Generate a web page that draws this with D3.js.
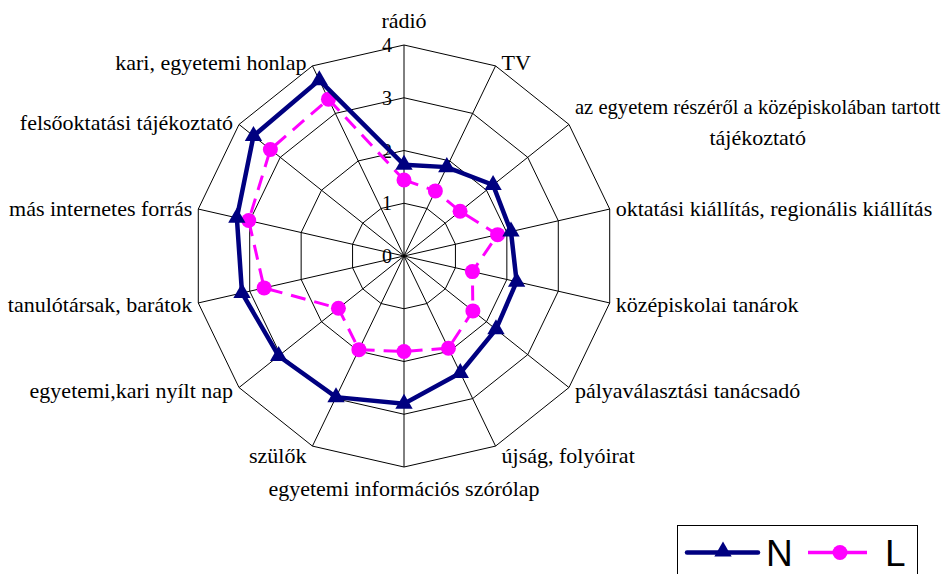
<!doctype html>
<html>
<head>
<meta charset="UTF-8">
<title>radar</title>
<script src="https://d3js.org/d3.v7.min.js"></script>
<style>
  body { margin: 0; background: #fff; }
  text { font-family: "Liberation Serif", "Times New Roman", serif; }
</style>
</head>
<body>
<script>
// kategóriák az óramutató irányában, felülről
var categories = [
  "rádió",
  "TV",
  "az egyetem részéről a középiskolában tartott\ntájékoztató",
  "oktatási kiállítás, regionális kiállítás",
  "középiskolai tanárok",
  "pályaválasztási tanácsadó",
  "újság, folyóirat",
  "egyetemi információs szórólap",
  "szülők",
  "egyetemi,kari nyílt nap",
  "tanulótársak, barátok",
  "más internetes forrás",
  "felsőoktatási tájékoztató",
  "kari, egyetemi honlap"
];
var nValues = [1.73, 1.87, 2.16, 2.08, 2.19, 2.23, 2.46, 2.8, 2.97, 3.04, 3.15, 3.25, 3.65, 3.7];
var lValues = [1.44, 1.37, 1.36, 1.82, 1.33, 1.67, 1.94, 1.81, 1.97, 1.59, 2.72, 3.02, 3.24, 3.3];
var ticks = [0, 1, 2, 3, 4];
var seriesNames = ["N", "L"];

var w = 952, h = 574;
var cx = 404, cy = 256;
var R = 211;
var fs = 22, lh = 30;

var svg = d3.select("body").append("svg").attr("width", w).attr("height", h);

var r = d3.scaleLinear().domain([0, 4]).range([0, R]);
var ang = d3.scaleLinear().domain([0, categories.length]).range([0, 2 * Math.PI]);

function px(i, v) { return cx + r(v) * Math.sin(ang(i)); }
function py(i, v) { return cy - r(v) * Math.cos(ang(i)); }

var g = svg.append("g");

// rács
ticks.slice(1).forEach(function (t) {
  g.append("polygon")
    .attr("points", categories.map(function (c, i) { return px(i, t) + "," + py(i, t); }).join(" "))
    .attr("fill", "none").attr("stroke", "#000").attr("stroke-width", 1);
});
categories.forEach(function (c, i) {
  g.append("line")
    .attr("x1", cx).attr("y1", cy)
    .attr("x2", px(i, 4)).attr("y2", py(i, 4))
    .attr("stroke", "#000").attr("stroke-width", 1);
});

// tengely feliratok
g.selectAll(".tick").data(ticks).enter().append("text")
  .attr("x", cx - 12)
  .attr("y", function (d) { return cy - r(d); })
  .attr("dy", "0.35em")
  .attr("text-anchor", "end")
  .attr("font-size", 20)
  .text(function (d) { return d; });

// kategória feliratok
categories.forEach(function (c, i) {
  var a = ang(i), s = Math.sin(a), co = Math.cos(a);
  var vx = px(i, 4), vy = py(i, 4);
  var lines = c.split("\n");
  var lg = g.append("g");
  lines.forEach(function (l, k) {
    lg.append("text").attr("x", 0).attr("y", k * lh)
      .attr("text-anchor", "middle").attr("dy", "0.35em")
      .attr("font-size", fs).text(l);
  });
  // ha nem fér ki jobbra, kisebb betű
  if (s > 0.1) {
    var room = w - (vx + 6) - 10;
    lg.selectAll("text").each(function () {
      var len = this.getComputedTextLength();
      if (len > room) d3.select(this).attr("font-size", Math.floor(fs * room / len * 10) / 10);
    });
  }
  var bb = lg.node().getBBox();
  var tx, ty;
  if (Math.abs(s) < 0.1) {
    tx = vx;
  } else if (s > 0) {
    tx = vx + 6 - bb.x;
  } else {
    tx = vx - 6 - (bb.x + bb.width);
  }
  var dy;
  if (co > 0.95) dy = -25;
  else if (co < -0.95) dy = 21;
  else if (co < -0.8) dy = 9;
  else if (co > 0.8) dy = -4;
  else dy = co * -4;
  var mid = (lines.length - 1) * lh / 2;
  ty = vy + dy - mid;
  lg.attr("transform", "translate(" + tx + "," + ty + ")");
});

// sorozatok
var line = d3.line()
  .x(function (d, i) { return px(i, d); })
  .y(function (d, i) { return py(i, d); })
  .curve(d3.curveLinearClosed);

var tri = d3.symbol().type(d3.symbolTriangle).size(130);

g.append("path").datum(lValues).attr("d", line)
  .attr("fill", "none").attr("stroke", "#ff00ff").attr("stroke-width", 3)
  .attr("stroke-dasharray", "15,9");
g.selectAll(".lpt").data(lValues).enter().append("circle")
  .attr("cx", function (d, i) { return px(i, d); })
  .attr("cy", function (d, i) { return py(i, d); })
  .attr("r", 7.5).attr("fill", "#ff00ff");

g.append("path").datum(nValues).attr("d", line)
  .attr("fill", "none").attr("stroke", "#000080").attr("stroke-width", 4.5)
  .attr("stroke-linejoin", "miter");
g.selectAll(".npt").data(nValues).enter().append("path")
  .attr("d", tri)
  .attr("transform", function (d, i) { return "translate(" + px(i, d) + "," + py(i, d) + ")"; })
  .attr("fill", "#000080");

// jelmagyarázat
var lgd = svg.append("g");
lgd.append("rect").attr("x", 677.5).attr("y", 525.5).attr("width", 240).attr("height", 60)
  .attr("fill", "#fff").attr("stroke", "#000").attr("stroke-width", 1);
var ly = 552.5;
lgd.append("line").attr("x1", 687).attr("x2", 758).attr("y1", ly).attr("y2", ly)
  .attr("stroke", "#000080").attr("stroke-width", 4.5).attr("stroke-linecap", "round");
lgd.append("path").attr("d", tri).attr("transform", "translate(723," + (ly - 1) + ")").attr("fill", "#000080");
lgd.append("text").attr("x", 766).attr("y", ly).attr("dy", "0.36em")
  .attr("font-size", 37).style("font-family", "'Liberation Sans', Arial, sans-serif").text(seriesNames[0]);
lgd.append("line").attr("x1", 808).attr("x2", 867).attr("y1", ly).attr("y2", ly)
  .attr("stroke", "#ff00ff").attr("stroke-width", 3.5);
lgd.append("circle").attr("cx", 840).attr("cy", ly).attr("r", 7.5).attr("fill", "#ff00ff");
lgd.append("text").attr("x", 885).attr("y", ly).attr("dy", "0.36em")
  .attr("font-size", 37).style("font-family", "'Liberation Sans', Arial, sans-serif").text(seriesNames[1]);
</script>
</body>
</html>
